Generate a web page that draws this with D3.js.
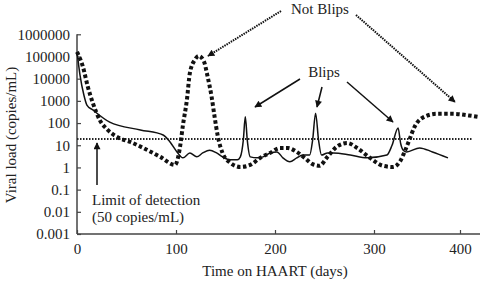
<!DOCTYPE html>
<html><head><meta charset="utf-8">
<script src="https://cdn.jsdelivr.net/npm/d3@7"></script>
<style>body{margin:0;background:#fff}svg{display:block}text{font-family:"Liberation Serif","Times New Roman",serif;fill:#222}</style>
</head><body><svg id="c" width="480" height="281"></svg>
<script>
// Data: [day, copies/mL]
const blipPatient = [[0,160000],[3,15000],[7,1800],[10,650],[16,390],[33,110],[64,49],[87,29],[94,14],[101,5],[107,2.7],[114,4.5],[121,3],[127,4.5],[134,6],[141,4.5],[147,3],[155,2.2],[162,2.2],[165,3],[168,17],[170,190],[172,17],[175,3],[182,2.7],[188,3],[195,4.5],[202,5],[208,2.7],[215,1.8],[222,2.7],[228,3.6],[235,3.6],[238,17],[241,280],[244,17],[247,3.6],[253,4.5],[259,4.5],[276,3.6],[293,2.7],[315,3.6],[321,10],[328,60],[331,12],[334,6],[338,5],[353,7.6],[368,5],[386,2.7]];
const nonBlipPatient = [[0,160000],[6,34000],[11,4200],[16,800],[23,137],[31,49],[41,23],[54,14],[67,7.5],[84,3],[99,1.3],[104,8],[107,80],[111,1100],[114,18000],[119,70000],[123,105000],[128,63000],[132,12000],[136,1500],[139,190],[142,29],[147,4.5],[155,1.6],[165,1.05],[175,1.3],[185,2.7],[195,4.5],[205,7.5],[213,7.5],[222,5],[230,2.7],[238,1.4],[245,1.2],[253,3],[263,9],[273,12.6],[283,7.5],[296,2.7],[310,1.2],[322,1.05],[330,1.8],[335,4.5],[341,17],[347,66],[356,170],[373,260],[391,260],[410,220],[421,190]];
const limitOfDetection = 19;
const xTicks = [0,100,200,300,400];
const yTicks = [0.001,0.01,0.1,1,10,100,1000,10000,100000,1000000];
const yTickLabels = ["0.001","0.01","0.1","1","10","100","1000","10000","100000","1000000"];

const svg = d3.select("#c");
const x = d3.scaleLinear().domain([0,300,400,423]).range([77,374,460,480]);
const y = d3.scaleLog().domain([0.001,1e6]).range([234,34.3]);

// axes
const gx = svg.append("g").attr("transform","translate(0,234)")
  .call(d3.axisBottom(x).tickValues(xTicks).tickSize(-4).tickPadding(9).tickFormat(d3.format("d")));
const gy = svg.append("g").attr("transform","translate(77,0)")
  .call(d3.axisLeft(y).tickValues(yTicks).tickSize(-4).tickPadding(7).tickFormat((d,i)=>yTickLabels[i]));
[gx,gy].forEach(g=>{
  g.select(".domain").attr("stroke","#444").attr("stroke-width",1.5);
  g.selectAll(".tick line").attr("stroke","#444").attr("stroke-width",1.2);
  g.selectAll(".tick text").style("font-family","Liberation Serif").style("font-size","15px").attr("fill","#222");
});
gx.select(".domain").attr("d","M77,0H480");
gy.select(".domain").attr("d","M0,234V34.3");

// axis titles
svg.append("text").attr("x",275).attr("y",276).attr("text-anchor","middle").style("font-size","15px").text("Time on HAART (days)");
svg.append("text").attr("transform","translate(16,135) rotate(-90)").attr("text-anchor","middle").style("font-size","15px").text("Viral load (copies/mL)");

// limit of detection
svg.append("line").attr("x1",x(0)).attr("x2",473).attr("y1",y(limitOfDetection)).attr("y2",y(limitOfDetection))
  .attr("stroke","#222").attr("stroke-width",2).attr("stroke-dasharray","1.5,1.5");

const line = d3.line().x(d=>x(d[0])).y(d=>y(d[1])).curve(d3.curveMonotoneX);
svg.append("path").datum(blipPatient).attr("d",line).attr("fill","none").attr("stroke","#111").attr("stroke-width",1.5);
svg.append("path").datum(nonBlipPatient).attr("d",line).attr("fill","none").attr("stroke","#111").attr("stroke-width",4).attr("stroke-dasharray","3.5,2.5");

// arrow markers
const defs = svg.append("defs");
defs.append("marker").attr("id","ah").attr("viewBox","0 0 10 10").attr("refX",9).attr("refY",5)
  .attr("markerWidth",9).attr("markerHeight",7).attr("markerUnits","userSpaceOnUse").attr("orient","auto")
  .append("path").attr("d","M0,0L10,5L0,10z").attr("fill","#111");

function arrow(x1,y1,x2,y2,dotted){
  svg.append("line").attr("x1",x1).attr("y1",y1).attr("x2",x2).attr("y2",y2)
    .attr("stroke","#111").attr("stroke-width",dotted?2:1.5)
    .attr("stroke-dasharray",dotted?"1.5,1":null).attr("marker-end","url(#ah)");
}
// Not Blips
svg.append("text").attr("x",320).attr("y",14).attr("text-anchor","middle").style("font-size","15px").text("Not Blips");
arrow(281,11,208,56,true);
arrow(356,15,455,102,true);
// Blips
svg.append("text").attr("x",324).attr("y",77).attr("text-anchor","middle").style("font-size","15px").text("Blips");
arrow(300,79,255,107,false);
arrow(322,87,317,107,false);
arrow(347,82,393,122,false);
// limit label
arrow(97,185,97,143,false);
svg.append("text").attr("x",92).attr("y",205).style("font-size","15px").text("Limit of detection");
svg.append("text").attr("x",92).attr("y",222).style("font-size","15px").text("(50 copies/mL)");
</script></body></html>
